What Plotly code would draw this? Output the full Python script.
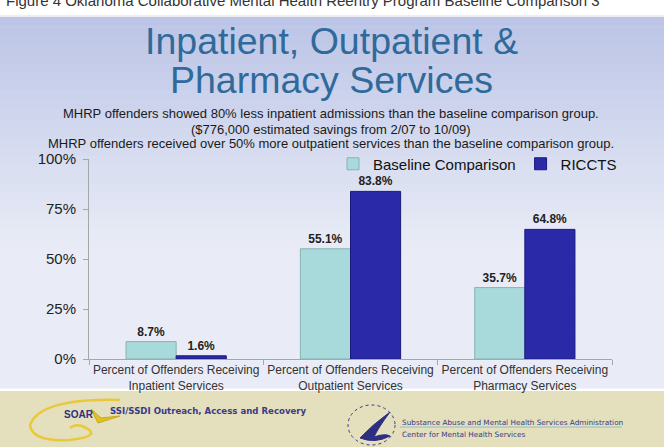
import plotly.graph_objects as go

W, H = 672, 447

categories = ["Percent of Offenders Receiving<br>Inpatient Services",
              "Percent of Offenders Receiving<br>Outpatient Services",
              "Percent of Offenders Receiving<br>Pharmacy Services"]
baseline = [8.7, 55.1, 35.7]
ricts = [1.6, 83.8, 64.8]
series_names = ["Baseline Comparison", "RICCTS"]
ytick_vals = [0, 25, 50, 75, 100]
ytick_text = ["0%", "25%", "50%", "75%", "100%"]

FONT = "Liberation Sans, Arial, sans-serif"


def px(x):
    return x / W


def py(y):
    return 1 - y / H


def lerp(c1, c2, t):
    return "#%02x%02x%02x" % tuple(int(round(a + (b - a) * t)) for a, b in zip(c1, c2))


fig = go.Figure()
fig.add_trace(go.Bar(
    x=categories, y=baseline, name=series_names[0],
    marker=dict(color="#a9dadb", line=dict(color="#86b3b4", width=1)),
    text=[f"{v:.1f}%" for v in baseline], textposition="outside", constraintext="none",
    textfont=dict(family=FONT, size=12, color="#222222", weight="bold"),
    cliponaxis=False,
))
fig.add_trace(go.Bar(
    x=categories, y=ricts, name=series_names[1],
    marker=dict(color="#2a2aa8", line=dict(color="#1a1a7e", width=1)),
    text=[f"{v:.1f}%" for v in ricts], textposition="outside", constraintext="none",
    textfont=dict(family=FONT, size=12, color="#222222", weight="bold"),
    cliponaxis=False,
))

P = dict(xref="paper", yref="paper")
shapes = []
# slide gradient background
top_c = (0xbc, 0xc5, 0xe7)
bot_c = (0xe9, 0xec, 0xf6)
y_top, y_bot = 17, 388
n = 40
for i in range(n):
    y0 = y_top + (y_bot - y_top) * i / n
    y1 = y_top + (y_bot - y_top) * (i + 1) / n
    t = min(1.0, (i / (n - 1)) * 1.6)
    shapes.append(dict(type="rect", **P,
                       x0=px(0), x1=px(664), y0=py(y1 + 0.5), y1=py(y0),
                       fillcolor=lerp(top_c, bot_c, t), line=dict(width=0), layer="below"))
# slide top border
shapes.append(dict(type="line", **P, x0=px(0), x1=px(664),
                   y0=py(16), y1=py(16), line=dict(color="#dcdcdc", width=1), layer="below"))
# footer band
shapes.append(dict(type="rect", **P,
                   x0=px(0), x1=px(664), y0=0, y1=py(391),
                   fillcolor="#e4dfbc", line=dict(width=0), layer="below"))
# SOAR logo swoosh
shapes.append(dict(type="path", **P,
                   path=(f"M {px(120)} {py(400)} Q {px(40)} {py(398)} {px(30)} {py(425)} "
                         f"Q {px(32)} {py(442)} {px(70)} {py(440)} "
                         f"Q {px(105)} {py(436)} {px(82)} {py(426)} "
                         f"Q {px(75)} {py(424)} {px(70)} {py(428)}"),
                   line=dict(color="#e9c93a", width=2.5)))
shapes.append(dict(type="path", **P,
                   path=f"M {px(91)} {py(409)} L {px(98)} {py(423)} L {px(120)} {py(416)} L {px(101)} {py(418)} Z",
                   fillcolor="#e2c21f", line=dict(color="#c9a91a", width=1)))
# HHS seal
shapes.append(dict(type="circle", **P,
                   x0=px(348), x1=px(395), y0=py(445), y1=py(405),
                   line=dict(color="#3a3a8a", width=1, dash="dot"), fillcolor="rgba(0,0,0,0)"))
shapes.append(dict(type="path", **P,
                   path=(f"M {px(360)} {py(438)} Q {px(372)} {py(425)} {px(390)} {py(412)} "
                         f"Q {px(378)} {py(428)} {px(374)} {py(437)} "
                         f"Q {px(385)} {py(433)} {px(390)} {py(436)} "
                         f"Q {px(375)} {py(444)} {px(360)} {py(438)} Z"),
                   fillcolor="#2f2f82", line=dict(color="#2f2f82", width=1)))
shapes.append(dict(type="line", **P, x0=px(400), x1=px(622),
                   y0=py(427), y1=py(427), line=dict(color="#8fc0c0", width=1)))


def ann(text, x, y, size, color, xanchor="center", family=FONT):
    return dict(text=text, **P, x=x, y=y, xanchor=xanchor, yanchor="middle", showarrow=False,
                font=dict(family=family, size=size, color=color))


annotations = [
    ann("Figure 4 Oklahoma Collaborative Mental Health Reentry Program Baseline Comparison 3",
        px(4), py(0), 15, "#333333", xanchor="left"),
    ann("Inpatient, Outpatient &", 0.493, py(41), 37.5, "#2f6a9b"),
    ann("Pharmacy Services", 0.493, py(80), 37.5, "#2f6a9b"),
    ann("MHRP offenders showed 80% less inpatient admissions than the baseline comparison group.",
        0.492, py(113), 13, "#1a1a1a"),
    ann("($776,000 estimated savings from 2/07 to 10/09)", 0.492, py(129), 13, "#1a1a1a"),
    ann("MHRP offenders received over 50% more outpatient services than the baseline comparison group.",
        0.492, py(143.5), 13, "#1a1a1a"),
    ann("<b>SOAR</b>", px(79), py(414), 10, "#2f2f82"),
    ann("<b>SSI/SSDI Outreach, Access and Recovery</b>", px(108), py(411), 8.6, "#3a3a8a",
        xanchor="left", family="DejaVu Sans, sans-serif"),
    ann("Substance Abuse and Mental Health Services Administration", px(400), py(422), 7.3,
        "#3a3a8a", xanchor="left", family="DejaVu Sans, sans-serif"),
    ann("Center for Mental Health Services", px(400), py(434), 7.3, "#3a3a8a",
        xanchor="left", family="DejaVu Sans, sans-serif"),
]

fig.update_layout(
    width=W, height=H,
    margin=dict(l=0, r=0, t=0, b=0, autoexpand=False),
    paper_bgcolor="white", plot_bgcolor="rgba(0,0,0,0)",
    barmode="group", bargap=0.425, bargroupgap=0,
    font=dict(family=FONT, color="#222222"),
    showlegend=True,
    legend=dict(orientation="h", x=px(333), y=py(164), xanchor="left", yanchor="middle",
                font=dict(family=FONT, size=15, color="#111111"),
                bgcolor="rgba(0,0,0,0)", itemwidth=30, tracegroupgap=0),
    xaxis=dict(domain=[px(89), px(612)], showline=True, linecolor="#a6a6a6", linewidth=1,
               ticks="outside", tickson="boundaries", ticklen=5, tickcolor="#a6a6a6",
               tickangle=0, automargin=False,
               tickfont=dict(family=FONT, size=12, color="#333333"), showgrid=False,
               fixedrange=True),
    yaxis=dict(domain=[py(359), py(159)], range=[0, 100], showline=True, linecolor="#a6a6a6",
               linewidth=1, ticks="outside", ticklen=5, tickcolor="#a6a6a6", automargin=False,
               tickvals=ytick_vals, ticktext=ytick_text, showgrid=False, zeroline=False,
               tickfont=dict(family=FONT, size=15, color="#222222"), ticklabelstandoff=4,
               fixedrange=True),
    shapes=shapes,
    annotations=annotations,
)

fig.write_html("out.html")
